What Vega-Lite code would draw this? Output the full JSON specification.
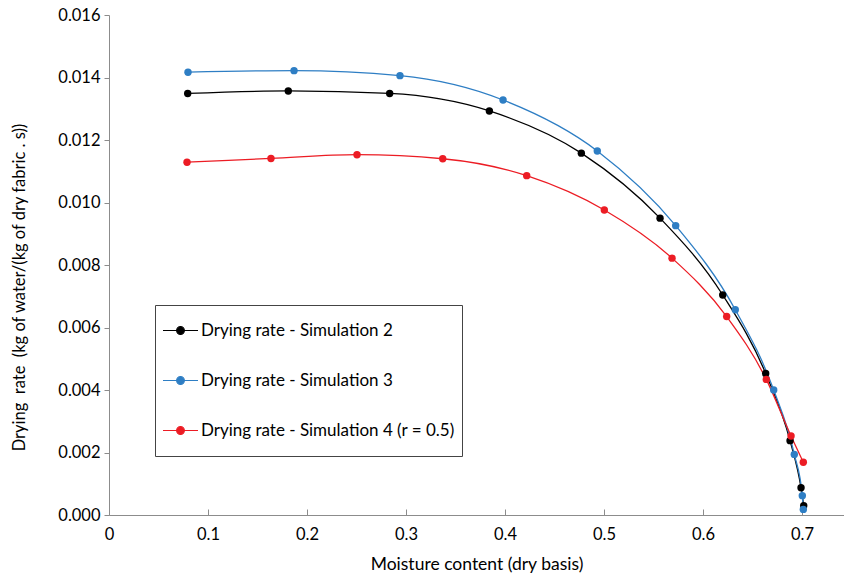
{
  "$schema": "https://vega.github.io/schema/vega-lite/v6.json",
  "width": 735,
  "height": 500,
  "autosize": {"type": "none"},
  "padding": {"left": 109, "top": 15, "right": 0, "bottom": 60},
  "background": "white",
  "config": {
    "view": {"stroke": null},
    "font": "Lato",
    "axis": {"labelFont": "Lato", "titleFont": "Lato", "labelColor": "#000", "titleColor": "#000", "titleFontWeight": "normal", "grid": false, "domainColor": "#8c8c8c", "tickColor": "#8c8c8c", "labelFontSize": 16.5, "titleFontSize": 16.5}
  },
  "datasets": {
    "d": [
      {"s": "Drying rate - Simulation 2", "x": 0.0795, "y": 0.01349},
      {"s": "Drying rate - Simulation 2", "x": 0.1811, "y": 0.01357},
      {"s": "Drying rate - Simulation 2", "x": 0.2835, "y": 0.01349},
      {"s": "Drying rate - Simulation 2", "x": 0.3842, "y": 0.01293},
      {"s": "Drying rate - Simulation 2", "x": 0.4771, "y": 0.01158},
      {"s": "Drying rate - Simulation 2", "x": 0.5566, "y": 0.0095},
      {"s": "Drying rate - Simulation 2", "x": 0.6199, "y": 0.00704},
      {"s": "Drying rate - Simulation 2", "x": 0.6633, "y": 0.00453},
      {"s": "Drying rate - Simulation 2", "x": 0.6879, "y": 0.00238},
      {"s": "Drying rate - Simulation 2", "x": 0.699, "y": 0.00087},
      {"s": "Drying rate - Simulation 2", "x": 0.7017, "y": 0.0003},
      {"s": "Drying rate - Simulation 3", "x": 0.0798, "y": 0.01417},
      {"s": "Drying rate - Simulation 3", "x": 0.1869, "y": 0.01422},
      {"s": "Drying rate - Simulation 3", "x": 0.2939, "y": 0.01406},
      {"s": "Drying rate - Simulation 3", "x": 0.398, "y": 0.01328},
      {"s": "Drying rate - Simulation 3", "x": 0.4932, "y": 0.01165},
      {"s": "Drying rate - Simulation 3", "x": 0.5724, "y": 0.00926},
      {"s": "Drying rate - Simulation 3", "x": 0.6326, "y": 0.00657},
      {"s": "Drying rate - Simulation 3", "x": 0.6714, "y": 0.004},
      {"s": "Drying rate - Simulation 3", "x": 0.6922, "y": 0.00194},
      {"s": "Drying rate - Simulation 3", "x": 0.7003, "y": 0.00062},
      {"s": "Drying rate - Simulation 3", "x": 0.7013, "y": 0.00018},
      {"s": "Drying rate - Simulation 4 (r = 0.5)", "x": 0.0788, "y": 0.01129},
      {"s": "Drying rate - Simulation 4 (r = 0.5)", "x": 0.1636, "y": 0.01141},
      {"s": "Drying rate - Simulation 4 (r = 0.5)", "x": 0.2505, "y": 0.01153},
      {"s": "Drying rate - Simulation 4 (r = 0.5)", "x": 0.3371, "y": 0.0114},
      {"s": "Drying rate - Simulation 4 (r = 0.5)", "x": 0.4219, "y": 0.01086},
      {"s": "Drying rate - Simulation 4 (r = 0.5)", "x": 0.5003, "y": 0.00976},
      {"s": "Drying rate - Simulation 4 (r = 0.5)", "x": 0.5687, "y": 0.00822},
      {"s": "Drying rate - Simulation 4 (r = 0.5)", "x": 0.6239, "y": 0.00635},
      {"s": "Drying rate - Simulation 4 (r = 0.5)", "x": 0.6639, "y": 0.00434},
      {"s": "Drying rate - Simulation 4 (r = 0.5)", "x": 0.6889, "y": 0.00253},
      {"s": "Drying rate - Simulation 4 (r = 0.5)", "x": 0.7013, "y": 0.00169}
    ]
  },
  "layer": [
    {
      "mark": {"type": "rule", "color": "#707070", "strokeWidth": 1.5},
      "encoding": {"y": {"datum": 0.016, "type": "quantitative"}}
    },
    {
      "data": {"name": "d"},
      "mark": {"type": "line", "interpolate": "monotone", "strokeWidth": 1.3},
      "encoding": {
        "x": {"field": "x", "type": "quantitative", "scale": {"domain": [0, 0.7424], "nice": false},
          "axis": {"title": "Moisture content (dry basis)", "titleFontSize": 17.5, "values": [0, 0.1, 0.2, 0.3, 0.4, 0.5, 0.6, 0.7], "format": "~g", "tickSize": -6, "labelPadding": 17, "titlePadding": 13, "labelFlush": false}},
        "y": {"field": "y", "type": "quantitative", "scale": {"domain": [0, 0.016], "nice": false},
          "axis": {"title": "Drying\u00a0 rate\u00a0 (kg of water/(kg of dry fabric . s))", "values": [0, 0.002, 0.004, 0.006, 0.008, 0.01, 0.012, 0.014, 0.016], "format": ".3f", "tickSize": 5, "labelPadding": 4, "titlePadding": 30, "titleY": 272}},
        "color": {"field": "s", "type": "nominal", "sort": null,
          "scale": {"domain": ["Drying rate - Simulation 2", "Drying rate - Simulation 3", "Drying rate - Simulation 4 (r = 0.5)"], "range": ["#000000", "#2e7ec4", "#ec1c24"]},
          "legend": {"title": null, "orient": "none", "legendX": 46, "legendY": 290, "padding": 7, "rowPadding": 13, "labelFontSize": 17, "labelFont": "Lato", "labelColor": "#000", "labelLimit": 400, "strokeColor": "#444", "fillColor": "white", "symbolSize": 1225, "symbolStrokeWidth": 1.2, "symbolOffset": 0, "labelOffset": 2,
            "symbolType": "M0,-0.9M0,0.9M-1,0H1M-0.22,0A0.22,0.22 0 1,1 0.22,0A0.22,0.22 0 1,1 -0.22,0Z",
            "encode": {"symbols": {"update": {"fill": {"scale": "color", "field": "value"}, "stroke": {"scale": "color", "field": "value"}, "fillOpacity": {"value": 1}, "opacity": {"value": 1}}}}}
        }
      }
    },
    {
      "data": {"name": "d"},
      "mark": {"type": "point", "filled": true, "size": 55, "opacity": 1},
      "encoding": {
        "x": {"field": "x", "type": "quantitative"},
        "y": {"field": "y", "type": "quantitative"},
        "color": {"field": "s", "type": "nominal", "sort": null}
      }
    }
  ]
}
